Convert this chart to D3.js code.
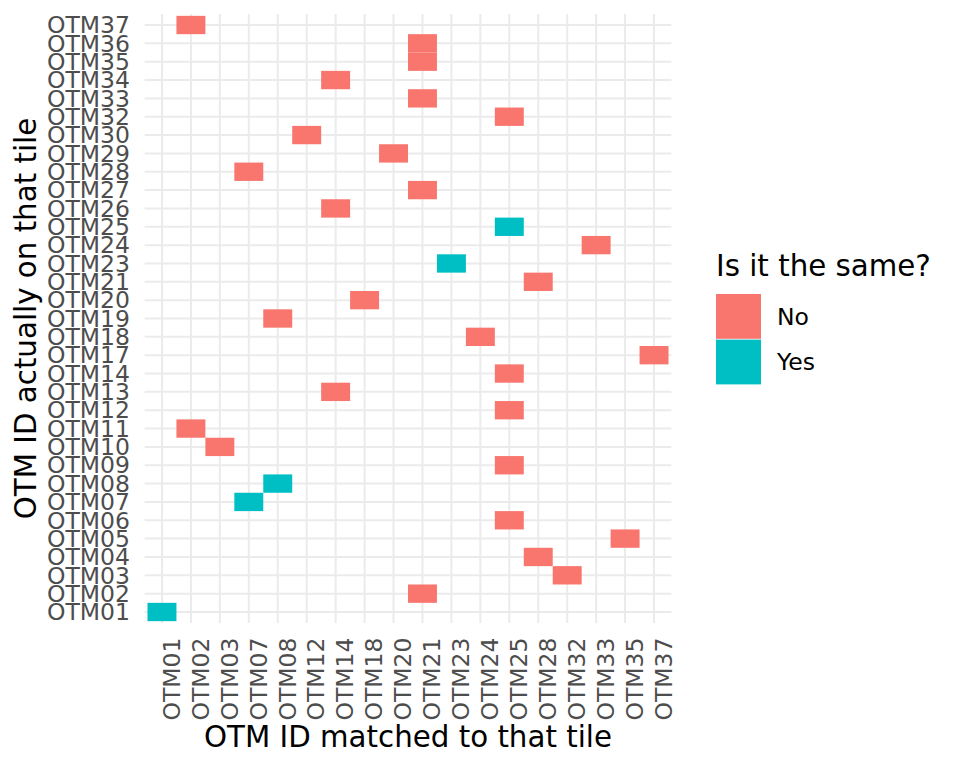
<!DOCTYPE html>
<html>
<head>
<meta charset="utf-8">
<script src="https://cdn.jsdelivr.net/npm/d3@7"></script>
<style>
  html, body { margin: 0; padding: 0; background: #fff; }
  svg { display: block; font-family: "DejaVu Sans", sans-serif; }
</style>
</head>
<body>
<svg id="chart" width="960" height="768"></svg>
<script>
// ---- Data ----
const matchedCategories = ["OTM01","OTM02","OTM03","OTM07","OTM08","OTM12","OTM14","OTM18","OTM20","OTM21","OTM23","OTM24","OTM25","OTM28","OTM32","OTM33","OTM35","OTM37"];
const actualCategories = ["OTM01","OTM02","OTM03","OTM04","OTM05","OTM06","OTM07","OTM08","OTM09","OTM10","OTM11","OTM12","OTM13","OTM14","OTM17","OTM18","OTM19","OTM20","OTM21","OTM23","OTM24","OTM25","OTM26","OTM27","OTM28","OTM29","OTM30","OTM32","OTM33","OTM34","OTM35","OTM36","OTM37"];
const matchedIds = ["OTM01","OTM21","OTM32","OTM28","OTM35","OTM25","OTM07","OTM08","OTM25","OTM03","OTM02","OTM25","OTM14","OTM25","OTM37","OTM24","OTM08","OTM18","OTM28","OTM23","OTM33","OTM25","OTM14","OTM21","OTM07","OTM20","OTM12","OTM25","OTM21","OTM14","OTM21","OTM21","OTM02"];
const sameLevels = ["No","Yes"];
const sameColors = ["#F8766D","#00BFC4"];

const tiles = actualCategories.map((a, i) => ({
  actual: a,
  matched: matchedIds[i],
  same: a === matchedIds[i] ? "Yes" : "No"
}));

// ---- Layout ----
const svg = d3.select("#chart");
const panel = { left: 144.6, right: 671.4, top: 14, bottom: 623 };
const fsTitle = 29.3, fsText = 23.5;

const x = d3.scaleBand().domain(matchedCategories)
  .range([panel.left, panel.right]).paddingInner(0).paddingOuter(0.1);
const y = d3.scaleBand().domain(actualCategories.slice().reverse())
  .range([panel.top, panel.bottom]).paddingInner(0).paddingOuter(0.1);
const color = d3.scaleOrdinal().domain(sameLevels).range(sameColors);

// Gridlines
const grid = svg.append("g");
grid.selectAll("line.v").data(matchedCategories).join("line")
  .attr("x1", d => x(d) + x.bandwidth()/2).attr("x2", d => x(d) + x.bandwidth()/2)
  .attr("y1", panel.top).attr("y2", panel.bottom)
  .attr("stroke", "#EBEBEB").attr("stroke-width", 2);
grid.selectAll("line.h").data(actualCategories).join("line")
  .attr("y1", d => y(d) + y.bandwidth()/2).attr("y2", d => y(d) + y.bandwidth()/2)
  .attr("x1", panel.left).attr("x2", panel.right)
  .attr("stroke", "#EBEBEB").attr("stroke-width", 2);

// Tiles
svg.append("g").selectAll("rect").data(tiles).join("rect")
  .attr("x", d => x(d.matched)).attr("y", d => y(d.actual))
  .attr("width", x.bandwidth()).attr("height", y.bandwidth())
  .attr("fill", d => color(d.same));

// Y axis
const yAxis = svg.append("g").attr("transform", `translate(${panel.left},0)`)
  .call(d3.axisLeft(y).tickSize(0).tickPadding(14.6));
yAxis.select(".domain").remove();
yAxis.selectAll("text").attr("font-size", fsText).attr("fill", "#4D4D4D")
  .attr("font-family", "DejaVu Sans").attr("dy", "0.35em");

// X axis
const xAxis = svg.append("g").attr("transform", `translate(0,${panel.bottom})`)
  .call(d3.axisBottom(x).tickSize(0));
xAxis.select(".domain").remove();
xAxis.selectAll("text")
  .attr("font-size", fsText).attr("fill", "#4D4D4D").attr("font-family", "DejaVu Sans")
  .attr("x", 0).attr("y", 0).attr("dy", 0)
  .attr("text-anchor", "end")
  .attr("transform", `translate(17.8,14.5) rotate(-90)`);

// Axis titles
svg.append("text").attr("x", (panel.left + panel.right)/2).attr("y", 747)
  .attr("text-anchor", "middle").attr("font-size", fsTitle).attr("fill", "#000")
  .text("OTM ID matched to that tile");
svg.append("text")
  .attr("transform", `translate(36,${(panel.top + panel.bottom)/2}) rotate(-90)`)
  .attr("text-anchor", "middle").attr("font-size", fsTitle).attr("fill", "#000")
  .text("OTM ID actually on that tile");

// Legend
const legend = svg.append("g").attr("transform", "translate(716,0)");
legend.append("text").attr("x", 0).attr("y", 276).attr("font-size", fsTitle)
  .attr("fill", "#000").text("Is it the same?");
const keys = legend.selectAll("g.key").data(sameLevels).join("g")
  .attr("transform", (d, i) => `translate(0,${294 + i * 45.6})`);
keys.append("rect").attr("width", 45).attr("height", 44.8).attr("fill", d => color(d));
keys.append("text").attr("x", 61).attr("y", 22.4).attr("dy", "0.36em")
  .attr("font-size", fsText).attr("fill", "#000").text(d => d);
</script>
</body>
</html>
